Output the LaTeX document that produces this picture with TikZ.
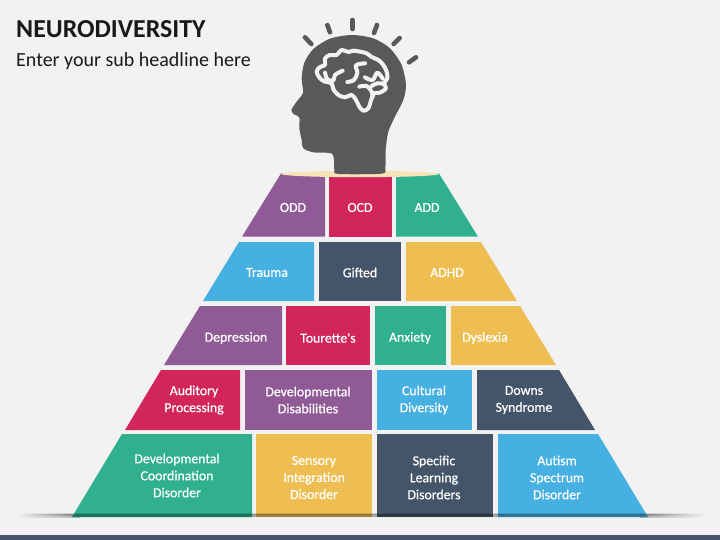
\documentclass[tikz,border=0pt]{standalone}
\usepackage{fontspec}
\setmainfont{Carlito}
\newfontfamily\labfont[FakeBold=0.6]{Carlito}
\definecolor{bgc}{HTML}{F2F2F2}
\definecolor{cpur}{HTML}{8F5A95}
\definecolor{cred}{HTML}{D2255C}
\definecolor{cgrn}{HTML}{31B08F}
\definecolor{cblu}{HTML}{47B0E2}
\definecolor{csla}{HTML}{455569}
\definecolor{cyel}{HTML}{EEBE52}
\definecolor{chead}{HTML}{595959}
\definecolor{ccream}{HTML}{F8E3B8}
\tikzset{
 lab/.style={text=white, align=center, inner sep=0pt, font=\labfont\fontsize{13.8}{17}\selectfont},
 ray/.style={draw=chead, line width=4.6pt, line cap=round},
 brainline/.style={draw=bgc, line width=4pt, line cap=round, line join=round},
 band/.style={fill=black, draw=none},
}
\begin{document}
\begin{tikzpicture}[x=1pt,y=-1pt]
\useasboundingbox (0,0) rectangle (720,540);
\fill[bgc] (0,0) rectangle (720,540);
\fill[csla] (0,535) rectangle (720,540);
% ground shadow ends, behind the pyramid
\shade[left color=bgc, right color=black!22] (15,513) rectangle (80,514);
\shade[left color=bgc, right color=black!50] (15,514) rectangle (80,516);
\shade[left color=bgc, right color=black!30] (15,516) rectangle (80,517);
\shade[left color=black!22, right color=bgc] (640,513) rectangle (705,514);
\shade[left color=black!50, right color=bgc] (640,514) rectangle (705,516);
\shade[left color=black!30, right color=bgc] (640,516) rectangle (705,517);
% titles
\node[anchor=west, inner sep=0pt, font=\fontsize{25.9}{30}\selectfont\bfseries, text=black!90] (title) at (16,29) {NEURODIVERSITY};
\node[anchor=west, inner sep=0pt, font=\fontsize{20}{24}\selectfont, text=black!90] (sub) at (16,61) {Enter your sub headline here};
% row 1
\fill[cpur] (281,173.5) -- (325,173.5) -- (325,236.7) -- (242,236.7) -- cycle;
\fill[cred] (329,173.5) rectangle (392,236.7);
\fill[cgrn] (396,173.5) -- (439,173.5) -- (478,236.7) -- (396,236.7) -- cycle;
% row 2
\fill[cblu] (239,242) -- (314,242) -- (314,301) -- (203,301) -- cycle;
\fill[csla] (319,242) rectangle (401,301);
\fill[cyel] (406,242) -- (481,242) -- (517,301) -- (406,301) -- cycle;
% row 3
\fill[cpur] (200,306) -- (282,306) -- (282,365) -- (164,365) -- cycle;
\fill[cred] (286,306) rectangle (370,365);
\fill[cgrn] (375,306) rectangle (446,365);
\fill[cyel] (451,306) -- (520,306) -- (556,365) -- (451,365) -- cycle;
% row 4
\fill[cred] (161,370) -- (240,370) -- (240,430) -- (125,430) -- cycle;
\fill[cpur] (245,370) rectangle (372,430);
\fill[cblu] (377,370) rectangle (472,430);
\fill[csla] (477,370) -- (559,370) -- (595,430) -- (477,430) -- cycle;
% row 5
\fill[cgrn] (122,434) -- (252,434) -- (252,517) -- (72,517) -- cycle;
\fill[cyel] (256,434) rectangle (372,517);
\fill[csla] (377,434) rectangle (493,517);
\fill[cblu] (498,434) -- (598,434) -- (648,517) -- (498,517) -- cycle;
% ground shadow across the pyramid
\fill[band, opacity=.15] (74.5,513) -- (645.5,513) -- (646,514) -- (74,514) -- cycle;
\fill[band, opacity=.35] (74,514) -- (646,514) -- (647.2,516) -- (72.8,516) -- cycle;
\fill[band, opacity=.25] (72.8,516) -- (647.2,516) -- (648,517) -- (72,517) -- cycle;
% cream ellipse
\fill[ccream] (360,174) ellipse [x radius=79, y radius=3.2];
% head
\begin{scope}[shift={(270,0)}, x=.3333pt, y=-.3333pt]
\fill[chead] plot[smooth cycle, tension=.45] coordinates {
 (64,330) (80,305) (99,278) (95,235) (103,188) (130,147) (180,116) (245,105) (310,115) (360,145) (395,195)
 (408,255) (400,300) (375,350) (355,395) (347,450) (346,505) (335,521) (205,522) (193,510)
 (187,462) (130,457) (100,445) (95,420) (88,385) (88,352) (72,343)};
\draw[ray] (247,60) -- (247,87);
\draw[ray] (172,75) -- (180,97);
\draw[ray] (105,112) -- (124,132);
\draw[ray] (321,75) -- (312,99);
\draw[ray] (389,114) -- (371,132);
\draw[ray] (438,172) -- (417,187);
% brain
\draw[brainline] plot[smooth cycle, tension=.55] coordinates {
 (140,215) (150,201) (165,195) (165,175) (180,165) (200,165) (215,150) (235,156) (250,152) (270,155)
 (290,160) (305,171) (325,180) (340,195) (350,215) (352,235) (342,250) (348,265) (330,278) (312,280)
 (305,295) (295,325) (280,332) (268,320) (258,300) (245,285) (225,292) (205,285) (190,268) (185,250) (165,245) (150,235)};
\draw[brainline] plot[smooth, tension=.6] coordinates {(165,218) (172,238) (190,242) (195,225) (218,212)};
\draw[brainline] plot[smooth, tension=.6] coordinates {(232,246) (252,240) (262,218) (258,196) (285,190)};
\draw[brainline] plot[smooth, tension=.6] coordinates {(285,232) (308,240) (322,218) (338,236)};
\draw[brainline] plot[smooth, tension=.6] coordinates {(268,260) (290,258) (305,275) (308,292)};
\draw[brainline] plot[smooth, tension=.6] coordinates {(305,258) (322,250) (342,252)};
\end{scope}
% labels
\node[lab] (n1) at (293,207.5) {ODD};
\node[lab] (n2) at (360,207.5) {OCD};
\node[lab] (n3) at (427,207.5) {ADD};
\node[lab] (n4) at (267,272.5) {Trauma};
\node[lab] (n5) at (360,272.5) {Gifted};
\node[lab] (n6) at (447,272.5) {ADHD};
\node[lab] (n7) at (236,338) {Depression};
\node[lab] (n8) at (328,338) {Tourette's};
\node[lab] (n9) at (410,338) {Anxiety};
\node[lab] (n10) at (485,338) {Dyslexia};
\node[lab] (n11) at (194,400) {Auditory\\Processing};
\node[lab] (n12) at (308,400) {Developmental\\Disabilities};
\node[lab] (n13) at (424,400) {Cultural\\Diversity};
\node[lab] (n14) at (524,400) {Downs\\Syndrome};
\node[lab] (n15) at (177,475.5) {Developmental\\Coordination\\Disorder};
\node[lab] (n16) at (314,477.5) {Sensory\\Integration\\Disorder};
\node[lab] (n17) at (434,477.5) {Specific\\Learning\\Disorders};
\node[lab] (n18) at (557,477.5) {Autism\\Spectrum\\Disorder};
\end{tikzpicture}
\end{document}
